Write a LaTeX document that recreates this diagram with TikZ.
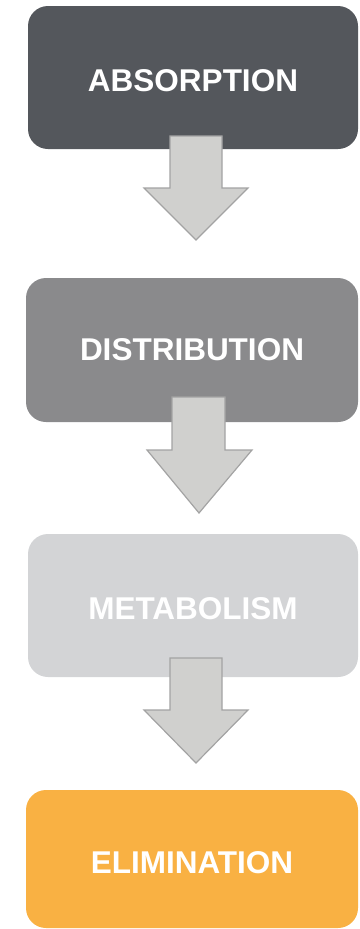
\documentclass[tikz,border=0pt]{standalone}
\usepackage{fontspec}
\setmainfont{Liberation Sans}
\definecolor{cA}{HTML}{54575C}
\definecolor{cB}{HTML}{8A8A8C}
\definecolor{cC}{HTML}{D3D4D6}
\definecolor{cD}{HTML}{F9B143}
\definecolor{arrfill}{HTML}{D0D0CE}
\definecolor{arrline}{HTML}{A3A3A3}
\begin{document}
\begin{tikzpicture}[x=1pt,y=-1pt,
  stage/.style={rounded corners=20pt, inner sep=0pt, text=white,
    font=\fontsize{31.5}{36}\selectfont\bfseries},
  lowtext/.style={text height=28.5pt, text depth=0pt},
  blockarrow/.style={fill=arrfill, draw=arrline, line width=1.2pt, line join=miter}]
\useasboundingbox (0,0) rectangle (359,929);
\node[stage, lowtext, fill=cA, minimum width=330pt, minimum height=143pt] (abs) at (193,77.5) {ABSORPTION};
\node[stage, fill=cB, minimum width=332pt, minimum height=144pt] (dis) at (192,350) {DISTRIBUTION};
\node[stage, lowtext, fill=cC, minimum width=330pt, minimum height=143pt] (met) at (193,605.5) {METABOLISM};
\node[stage, lowtext, fill=cD, minimum width=332pt, minimum height=138pt] (eli) at (192,859) {ELIMINATION};
% block arrows
\draw[blockarrow] (170,136) -- (222,136) -- (222,188) -- (248,188) -- (196,240) -- (144,188) -- (170,188) -- cycle;
\draw[blockarrow] (172,397) -- (225,397) -- (225,450) -- (252,450) -- (199,513) -- (147,450) -- (172,450) -- cycle;
\draw[blockarrow] (170,658) -- (222,658) -- (222,710) -- (248,710) -- (196,763) -- (144,710) -- (170,710) -- cycle;
\end{tikzpicture}
\end{document}
